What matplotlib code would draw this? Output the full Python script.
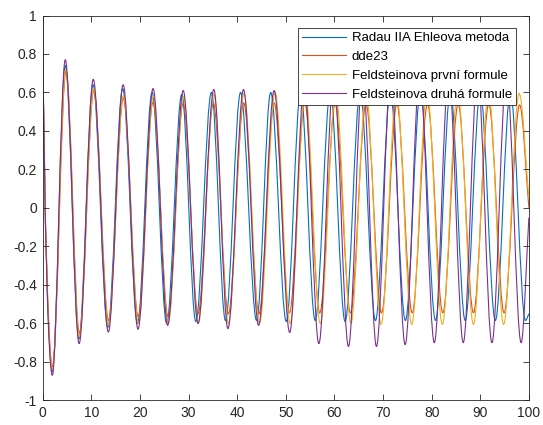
import matplotlib
matplotlib.use("Agg")
import matplotlib.pyplot as plt
from matplotlib.path import Path
from matplotlib.patches import PathPatch
from matplotlib.lines import Line2D

# Values: start point, alternating troughs/peaks (extrema), end point
t_radau = [0, 1.97, 4.65, 7.45, 10.35, 13.4, 16.45, 19.5, 22.5, 25.5, 28.6, 31.5, 34.7, 37.6,
           40.7, 44.0, 46.9, 50.1, 53.05, 56.05, 59.15, 62.2, 65.3, 68.45, 71.5, 74.6, 77.7, 80.8,
           83.85, 86.9, 90.0, 93.1, 96.2, 99.3, 100]
y_radau = [1, -0.85, 0.74, -0.68, 0.64, -0.62, 0.62, -0.60, 0.60, -0.60, 0.59, -0.59, 0.60, -0.585,
           0.60, -0.585, 0.60, -0.59, 0.60, -0.585, 0.60, -0.59, 0.60, -0.585, 0.60, -0.585, 0.60, -0.585,
           0.60, -0.585, 0.60, -0.585, 0.60, -0.585, -0.55]

t_dde23 = [0, 2.0, 4.8, 7.55, 10.5, 13.55, 16.6, 19.65, 22.7, 25.8, 28.9, 31.95, 35.1, 38.2,
           41.35, 44.5, 47.6, 50.75, 53.9, 57.0, 60.15, 63.3, 66.5, 69.7, 72.85, 76.0, 79.15, 82.3,
           85.45, 88.6, 91.75, 94.9, 98.1, 100]
y_dde23 = [1, -0.826, 0.71, -0.65, 0.61, -0.584, 0.57, -0.565, 0.55, -0.565, 0.545, -0.55, 0.545, -0.55,
           0.545, -0.55, 0.545, -0.545, 0.545, -0.545, 0.54, -0.545, 0.54, -0.545, 0.54, -0.545, 0.54, -0.545,
           0.54, -0.545, 0.54, -0.545, 0.535, 0.0]

t_feld1 = [0, 2.0, 4.75, 7.55, 10.5, 13.55, 16.6, 19.7, 22.75, 25.8, 28.95, 32.0, 35.2, 38.2,
           41.4, 44.6, 47.8, 50.9, 54.0, 57.1, 60.25, 63.4, 66.5, 69.6, 72.75, 75.9, 79.05, 82.2,
           85.35, 88.6, 91.7, 94.8, 98.0, 100]
y_feld1 = [1, -0.84, 0.72, -0.67, 0.62, -0.61, 0.585, -0.60, 0.58, -0.60, 0.58, -0.60, 0.59, -0.60,
           0.595, -0.60, 0.60, -0.60, 0.60, -0.60, 0.60, -0.60, 0.60, -0.605, 0.60, -0.605, 0.60, -0.605,
           0.60, -0.605, 0.60, -0.605, 0.595, 0.05]

t_feld2 = [0, 1.97, 4.65, 7.5, 10.4, 13.5, 16.55, 19.6, 22.7, 25.7, 28.9, 31.95, 35.2, 38.1,
           41.3, 44.4, 47.6, 50.8, 53.8, 56.8, 59.85, 62.9, 65.8, 68.65, 71.6, 74.55, 77.55, 80.55,
           83.5, 86.5, 89.45, 92.4, 95.4, 98.4, 100]
y_feld2 = [1, -0.87, 0.77, -0.705, 0.668, -0.645, 0.64, -0.63, 0.62, -0.61, 0.61, -0.60, 0.615, -0.627,
           0.615, -0.61, 0.61, -0.647, 0.64, -0.705, 0.68, -0.72, 0.70, -0.72, 0.70, -0.71, 0.70, -0.70,
           0.70, -0.70, 0.70, -0.70, 0.70, -0.70, -0.05]

labels = ["Radau IIA Ehleova metoda", "dde23", "Feldsteinova první formule", "Feldsteinova druhá formule"]
colors = ["#0072BD", "#D95319", "#EDB120", "#7E2F8E"]
x_ticks = [0, 10, 20, 30, 40, 50, 60, 70, 80, 90, 100]
y_ticks = [-1, -0.8, -0.6, -0.4, -0.2, 0, 0.2, 0.4, 0.6, 0.8, 1]
y_tick_labels = ["-1", "-0.8", "-0.6", "-0.4", "-0.2", "0", "0.2", "0.4", "0.6", "0.8", "1"]

plt.rcParams['font.family'] = ['Liberation Sans', 'DejaVu Sans']


def smooth_path(t, y):
    """Cubic Bezier segments with flat tangents at the read extrema."""
    a = 0.35
    verts = [(t[0], y[0])]
    codes = [Path.MOVETO]
    n = len(t)
    for i in range(n - 1):
        t0, y0, t1, y1 = t[i], y[i], t[i + 1], y[i + 1]
        dt = t1 - t0
        if i == 0:
            c1 = (t0 + 0.15 * dt, y0 + 0.6 * (y1 - y0))
        else:
            c1 = (t0 + a * dt, y0)
        if i == n - 2:
            c2 = (t1 - 0.3 * dt, y1 - 0.3 * (y1 - y0))
        else:
            c2 = (t1 - a * dt, y1)
        verts += [c1, c2, (t1, y1)]
        codes += [Path.CURVE4] * 3
    return Path(verts, codes)


fig = plt.figure(figsize=(5.43, 4.25), dpi=100)
ax = fig.add_axes([0.0786, 0.058, 0.974 - 0.0786, 0.9635 - 0.058])

series = [(t_radau, y_radau), (t_dde23, y_dde23), (t_feld1, y_feld1), (t_feld2, y_feld2)]
handles = []
for (t, y), lab, c in zip(series, labels, colors):
    patch = PathPatch(smooth_path(t, y), facecolor='none', edgecolor=c, lw=0.8,
                      transform=ax.transData, clip_on=True)
    ax.add_patch(patch)
    handles.append(Line2D([], [], color=c, lw=0.8, label=lab))

ax.set_xlim(0, 100)
ax.set_ylim(-1, 1)
ax.set_xticks(x_ticks)
ax.set_yticks(y_ticks)
ax.set_yticklabels(y_tick_labels)
ax.tick_params(direction='in', length=4, width=0.6, top=True, right=True,
               labelsize=10, colors='#262626', pad=4)
for s in ax.spines.values():
    s.set_color('#262626')
    s.set_linewidth(0.6)

leg = ax.legend(handles=handles, loc='upper right', bbox_to_anchor=(0.973, 0.9675), fontsize=9.5,
                frameon=True, fancybox=False, framealpha=1, edgecolor='#262626',
                handlelength=3.3, handletextpad=0.45, borderpad=0.3, labelspacing=0.5,
                borderaxespad=0)
leg.get_frame().set_linewidth(0.6)

fig.savefig("out.png", dpi=100)
